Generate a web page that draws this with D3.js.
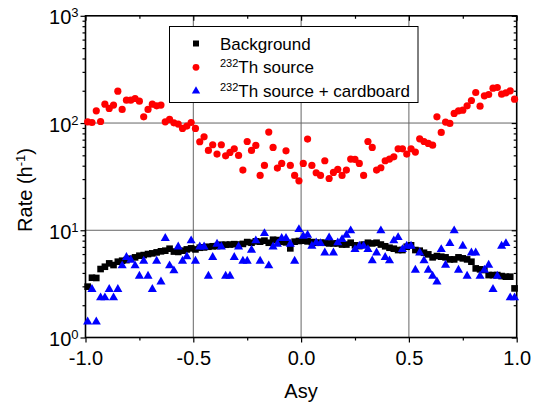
<!DOCTYPE html>
<html>
<head>
<meta charset="utf-8">
<script src="https://cdn.jsdelivr.net/npm/d3@7"></script>
<style>
  body { margin: 0; background: #fff; }
  svg { display: block; font-family: "Liberation Sans", Arial, sans-serif; }
</style>
</head>
<body>
<svg width="533" height="404"></svg>
<script>
// bin centres of the asymmetry axis
var asy = [-0.99,-0.97,-0.95,-0.93,-0.91,-0.89,-0.87,-0.85,-0.83,-0.81,
  -0.79,-0.77,-0.75,-0.73,-0.71,-0.69,-0.67,-0.65,-0.63,-0.61,
  -0.59,-0.57,-0.55,-0.53,-0.51,-0.49,-0.47,-0.45,-0.43,-0.41,
  -0.39,-0.37,-0.35,-0.33,-0.31,-0.29,-0.27,-0.25,-0.23,-0.21,
  -0.19,-0.17,-0.15,-0.13,-0.11,-0.09,-0.07,-0.05,-0.03,-0.01,
  0.01,0.03,0.05,0.07,0.09,0.11,0.13,0.15,0.17,0.19,
  0.21,0.23,0.25,0.27,0.29,0.31,0.33,0.35,0.37,0.39,
  0.41,0.43,0.45,0.47,0.49,0.51,0.53,0.55,0.57,0.59,
  0.61,0.63,0.65,0.67,0.69,0.71,0.73,0.75,0.77,0.79,
  0.81,0.83,0.85,0.87,0.89,0.91,0.93,0.95,0.97,0.99];

var background = [2.98,3.61,3.59,4.35,4.57,4.91,4.74,5.09,5.20,5.27,
  5.43,5.59,5.79,5.87,6.00,6.09,6.22,6.36,6.45,6.73,
  6.33,6.28,6.45,6.63,6.78,6.63,6.87,6.92,7.02,7.09,
  7.12,7.33,7.33,7.36,7.42,7.36,7.46,7.76,7.65,7.88,
  7.83,8.00,7.65,8.16,8.10,7.83,7.71,6.78,7.83,7.94,
  8.00,7.88,7.76,7.65,7.65,7.65,7.54,7.54,7.54,7.36,
  7.36,7.65,7.24,7.12,7.36,7.65,7.54,7.65,7.36,7.09,
  6.87,6.73,6.54,6.54,7.02,7.24,6.54,6.45,6.17,5.96,
  5.59,5.75,5.67,5.59,5.35,5.35,5.59,5.47,5.35,5.09,
  4.41,4.32,4.26,3.82,3.82,3.82,3.74,3.69,3.69,2.87];

var thSource = [102.7,101.2,130,103.4,150,136.7,146.9,198.3,133.8,163.5,
  163.5,169.4,160,114.3,133.8,150,144.7,146.9,102.7,108,
  100.5,97.7,89,93.6,101.2,89,66.9,74.4,55.5,62.7,
  51.3,62.7,49.5,53.2,57.5,49.9,36.4,67.3,55.5,61.8,
  32.5,40.2,82.3,59.2,38,42,55.1,40.2,32.5,28.9,
  42,70.8,40.2,34.4,32.5,44.5,30.4,34.6,36.9,32.5,
  36.4,46.1,45.8,42,32.5,67.3,59.2,36.4,38.3,44.5,
  46.1,48.4,57.5,57.5,51.3,57.5,53.6,71.3,67.3,64.5,
  62.2,114.3,81.7,102,99.1,122.8,130,131.9,144.7,162.3,
  192.7,143.7,179.4,184.6,211.4,214.5,185.9,191.3,199.7,167];

var thCardboard = [1.40,2.81,1.40,2.35,2.35,2.81,2.35,2.81,4.67,5.59,
  5.28,4.67,3.74,5.16,3.74,2.81,5.16,3.31,8.40,4.67,
  4.20,7.02,5.16,5.67,7.99,5.16,7.02,7.02,3.74,5.59,
  7.44,7.02,3.74,3.74,5.59,7.02,5.16,5.16,6.54,7.99,
  5.16,9.35,4.67,7.02,7.44,8.40,8.40,7.44,5.16,10.19,
  8.80,9.02,7.12,7.65,7.54,6.17,8.52,6.17,7.65,8.22,
  9.02,9.90,6.63,7.12,7.12,6.63,5.20,6.17,9.90,5.59,
  5.20,7.99,8.58,6.63,7.12,7.12,4.26,6.17,5.20,4.26,
  3.74,3.31,6.63,4.74,7.54,9.90,4.26,7.12,3.74,6.17,
  6.17,3.74,4.26,4.74,2.81,3.74,7.12,7.54,2.35,2.35];

var xTicks = [-1.0, -0.5, 0.0, 0.5, 1.0];
var xMinor = [-0.75, -0.25, 0.25, 0.75];
var yTicks = [1, 10, 100, 1000];
var yExp = ["0", "1", "2", "3"];

var svg = d3.select("svg");
var pLeft = 85.5, pRight = 516.7, pTop = 15.8, pBottom = 337.5;

var x = d3.scaleLinear().domain([-1, 1]).range([pLeft, pRight]);
var y = d3.scaleLog().domain([1, 1000]).range([pBottom, pTop]);

var yMinor = [];
[1, 10, 100].forEach(function(d) {
  for (var i = 2; i < 10; i++) yMinor.push(d * i);
});

// grid
var grid = svg.append("g").attr("stroke", "#666").attr("stroke-width", 1);
grid.selectAll(".gx").data([-0.5, 0, 0.5]).enter().append("line")
  .attr("x1", function(d) { return x(d); }).attr("x2", function(d) { return x(d); })
  .attr("y1", pTop).attr("y2", pBottom);
grid.selectAll(".gy").data([10, 100]).enter().append("line")
  .attr("x1", pLeft).attr("x2", pRight)
  .attr("y1", function(d) { return y(d); }).attr("y2", function(d) { return y(d); });

// axes
function styleAxis(g) {
  g.select(".domain").remove();
  g.selectAll("line").attr("stroke", "#000").attr("stroke-width", 1.2);
}

svg.append("g").attr("transform", "translate(0," + pBottom + ")")
  .call(d3.axisBottom(x).tickValues(xTicks).tickSize(5).tickPadding(8))
  .call(styleAxis)
  .selectAll("text").attr("font-size", 20).attr("fill", "#000")
  .attr("font-family", "Liberation Sans, Arial, sans-serif")
  .text(function(d) { return d3.format(".1f")(d).replace("−", "-"); });

svg.append("g").attr("transform", "translate(0," + pBottom + ")")
  .call(d3.axisBottom(x).tickValues(xMinor).tickSize(3).tickFormat(""))
  .call(styleAxis);

svg.append("g").attr("transform", "translate(0," + pTop + ")")
  .call(d3.axisBottom(x).tickValues(xTicks).tickSize(5).tickFormat(""))
  .call(styleAxis);
svg.append("g").attr("transform", "translate(0," + pTop + ")")
  .call(d3.axisBottom(x).tickValues(xMinor).tickSize(3).tickFormat(""))
  .call(styleAxis);

var yAxis = svg.append("g").attr("transform", "translate(" + pLeft + ",0)")
  .call(d3.axisLeft(y).tickValues(yTicks).tickSize(5).tickFormat(""))
  .call(styleAxis);
yAxis.selectAll(".tick").append("text")
  .attr("x", -7).attr("dy", 8).attr("text-anchor", "end")
  .attr("font-size", 20).attr("fill", "#000")
  .attr("font-family", "Liberation Sans, Arial, sans-serif")
  .each(function(d, i) {
    var t = d3.select(this);
    t.append("tspan").text("10");
    t.append("tspan").attr("dy", -7).attr("font-size", 13).text(yExp[i]);
  });

svg.append("g").attr("transform", "translate(" + pLeft + ",0)")
  .call(d3.axisLeft(y).tickValues(yMinor).tickSize(3).tickFormat(""))
  .call(styleAxis);
svg.append("g").attr("transform", "translate(" + pRight + ",0)")
  .call(d3.axisLeft(y).tickValues(yTicks).tickSize(5).tickFormat(""))
  .call(styleAxis);
svg.append("g").attr("transform", "translate(" + pRight + ",0)")
  .call(d3.axisLeft(y).tickValues(yMinor).tickSize(3).tickFormat(""))
  .call(styleAxis);

// frame
svg.append("rect").attr("x", pLeft).attr("y", pTop)
  .attr("width", pRight - pLeft).attr("height", pBottom - pTop)
  .attr("fill", "none").attr("stroke", "#000").attr("stroke-width", 1.6);

// data
var sq = d3.symbol().type(d3.symbolSquare).size(44);
var tri = d3.symbol().type(d3.symbolTriangle).size(36);

svg.append("g").selectAll("path").data(background).enter().append("path")
  .attr("d", sq)
  .attr("transform", function(d, i) { return "translate(" + x(asy[i]) + "," + y(d) + ")"; })
  .attr("fill", "#000");

svg.append("g").selectAll("circle").data(thSource).enter().append("circle")
  .attr("cx", function(d, i) { return x(asy[i]); })
  .attr("cy", function(d) { return y(d); })
  .attr("r", 3.6)
  .attr("fill", "#ff0000");

svg.append("g").selectAll("path").data(thCardboard).enter().append("path")
  .attr("d", tri)
  .attr("transform", function(d, i) { return "translate(" + x(asy[i]) + "," + y(d) + ")"; })
  .attr("fill", "#0000ff");

// legend
var lg = svg.append("g");
lg.append("rect").attr("x", 169.5).attr("y", 26.5).attr("width", 248.5).attr("height", 76)
  .attr("fill", "#fff").attr("stroke", "#000").attr("stroke-width", 1);
var rows = [43.5, 67.3, 91];
lg.append("path").attr("d", d3.symbol().type(d3.symbolSquare).size(36))
  .attr("transform", "translate(196," + rows[0] + ")").attr("fill", "#000");
lg.append("circle").attr("cx", 196).attr("cy", rows[1]).attr("r", 3.4).attr("fill", "#ff0000");
lg.append("path").attr("d", d3.symbol().type(d3.symbolTriangle).size(30))
  .attr("transform", "translate(196," + rows[2] + ")").attr("fill", "#0000ff");

var legendText = [["", "Background"], ["232", "Th source"], ["232", "Th source + cardboard"]];
legendText.forEach(function(l, i) {
  var t = lg.append("text").attr("x", 220).attr("y", rows[i] + 6)
    .attr("font-size", 17).attr("fill", "#000");
  if (l[0]) {
    t.append("tspan").attr("font-size", 11).attr("dy", -6).text(l[0]);
    t.append("tspan").attr("dy", 6).text(l[1]);
  } else {
    t.append("tspan").text(l[1]);
  }
});

// axis titles
svg.append("text").attr("x", 301).attr("y", 398).attr("text-anchor", "middle")
  .attr("font-size", 20).attr("fill", "#000").text("Asy");

var yt = svg.append("text").attr("transform", "translate(32,190) rotate(-90)")
  .attr("text-anchor", "middle").attr("font-size", 20).attr("fill", "#000");
yt.append("tspan").text("Rate (h");
yt.append("tspan").attr("dy", -7).attr("font-size", 13).text("-1");
yt.append("tspan").attr("dy", 7).text(")");
</script>
</body>
</html>
